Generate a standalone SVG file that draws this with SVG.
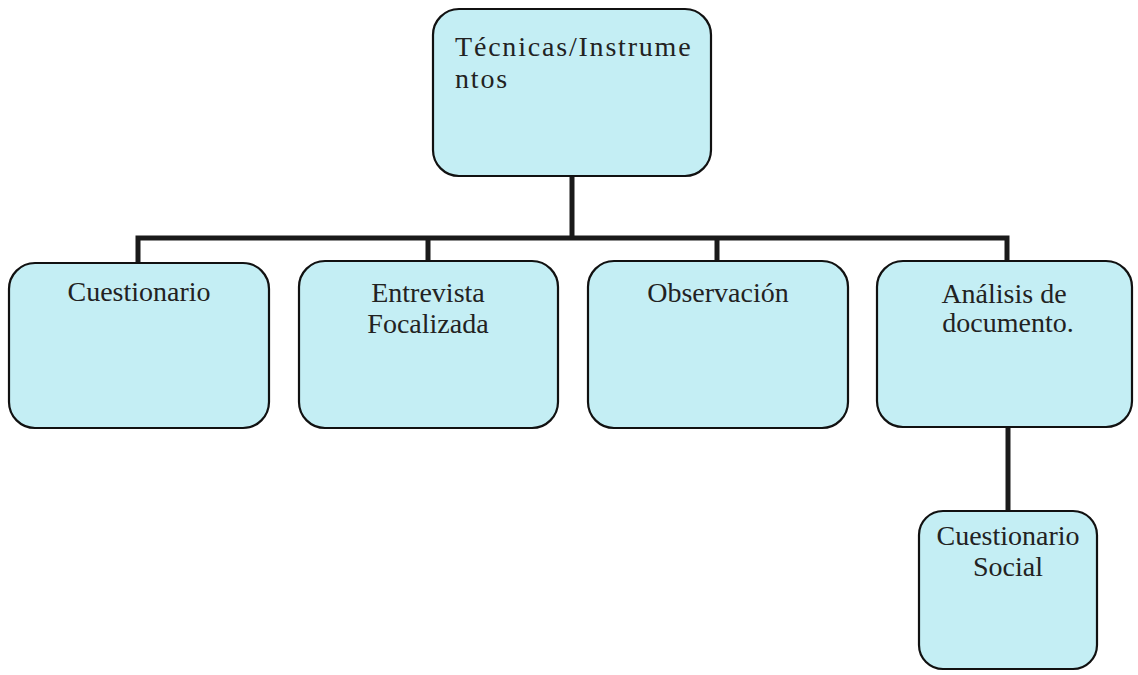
<svg xmlns="http://www.w3.org/2000/svg" width="1138" height="675" viewBox="0 0 1138 675">
<style>
.box{fill:#c4eef4;stroke:#111;stroke-width:2.2}
.lbl{font-family:"Liberation Serif","DejaVu Serif",serif;font-size:28px;fill:#222}
.c{text-anchor:middle}
.conn{fill:none;stroke:#1a1a1a;stroke-width:5}
</style>
<rect width="1138" height="675" fill="#fff"/>
<g id="connectors">
<path class="conn" d="M572 176V238M138 263V238H1007V262M428 238V261M717 238V261"/>
<path class="conn" d="M1008 427V511"/>
</g>
<g id="n-tecnicas">
<rect class="box" x="433" y="9" width="278" height="167" rx="26"/>
<text class="lbl" x="455" y="56" letter-spacing="1.8">Técnicas/Instrume</text>
<text class="lbl" x="455" y="88" letter-spacing="1.8">ntos</text>
</g>
<g id="n-cuestionario">
<rect class="box" x="9" y="263" width="260" height="165" rx="26"/>
<text class="lbl c" x="139" y="301">Cuestionario</text>
</g>
<g id="n-entrevista">
<rect class="box" x="299" y="261" width="259" height="167" rx="26"/>
<text class="lbl c" x="428" y="302">Entrevista</text>
<text class="lbl c" x="428" y="333">Focalizada</text>
</g>
<g id="n-observacion">
<rect class="box" x="588" y="261" width="260" height="167" rx="26"/>
<text class="lbl c" x="718" y="302">Observación</text>
</g>
<g id="n-analisis">
<rect class="box" x="877" y="261" width="255" height="166" rx="26"/>
<text class="lbl c" x="1004" y="303">Análisis de</text>
<text class="lbl c" x="1008" y="332">documento.</text>
</g>
<g id="n-social">
<rect class="box" x="919" y="511" width="178" height="158" rx="24"/>
<text class="lbl c" x="1008" y="545">Cuestionario</text>
<text class="lbl c" x="1008" y="576">Social</text>
</g>
</svg>
